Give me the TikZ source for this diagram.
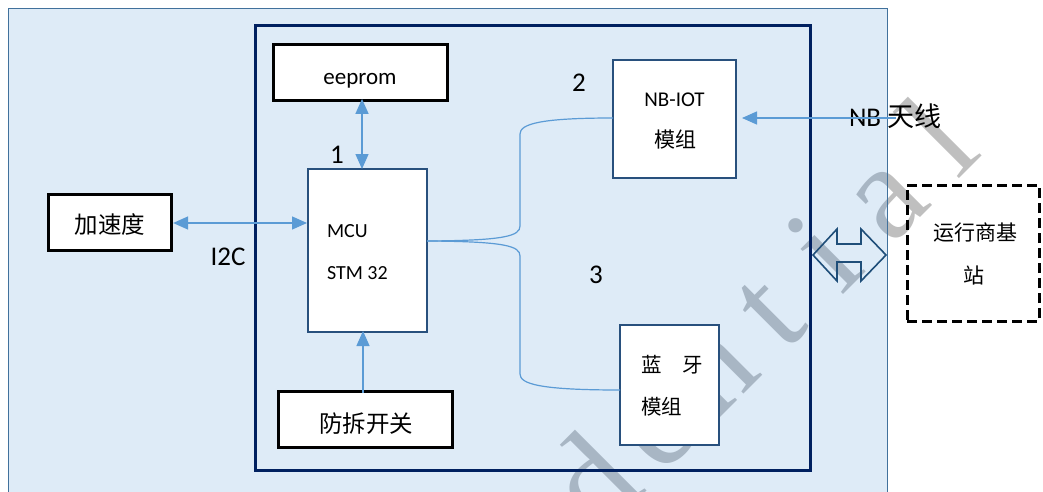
\documentclass[tikz,border=0pt]{standalone}
\usepackage{fontspec}
\setmainfont{Carlito}
\newfontfamily\cjk{Noto Sans CJK SC}
\newfontfamily\wmfont{Liberation Serif}
\newcommand\wmc[1]{\makebox[81.5pt]{#1}}
\usetikzlibrary{arrows.meta}
\definecolor{bgblue}{RGB}{222,235,247}
\definecolor{outerline}{RGB}{65,113,156}
\definecolor{navy}{RGB}{0,32,96}
\definecolor{boxline}{RGB}{40,80,125}
\definecolor{conn}{RGB}{91,155,213}
\definecolor{dblline}{RGB}{31,78,121}
\definecolor{wmblue}{RGB}{168,182,196}
\definecolor{wmgray}{RGB}{191,191,191}
\tikzset{
  thickbox/.style={draw=black,line width=3.3pt,fill=white,inner sep=0pt,outer sep=0pt},
  bluebox/.style={draw=boxline,line width=2pt,fill=white,inner sep=0pt,outer sep=0pt},
  dashbox/.style={draw=black,line width=3pt,dash pattern=on 10pt off 5pt,inner sep=0pt,outer sep=0pt},
  txt/.style={inner sep=0pt,outer sep=0pt},
  wmark/.style={txt,anchor=base west,rotate=45,font=\wmfont\fontsize{135}{135}\selectfont},
  conline/.style={draw=conn,line width=1.4pt},
  mytip/.tip={Triangle[length=15pt,width=13pt]},
}
\begin{document}
\begin{tikzpicture}[x=1pt,y=-1pt]
\useasboundingbox (0,0) rectangle (1043,492);
\clip (0,0) rectangle (1043,492);
\fill[white] (0,0) rectangle (1043,492);
% outer region
\fill[bgblue] (8.5,8.5) rectangle (887.5,510);
% watermark
\begin{scope}
\clip (8.5,8.5) rectangle (887.5,492);
\node[wmark,text=wmblue] (wm1) at (595.9,542.1) {\wmc{d}\wmc{e}\wmc{n}\wmc{t}\wmc{i}\wmc{a}\wmc{l}};
\end{scope}
\begin{scope}
\clip (887.5,0) rectangle (1043,492);
\node[wmark,text=wmgray] (wm2) at (595.9,542.1) {\wmc{d}\wmc{e}\wmc{n}\wmc{t}\wmc{i}\wmc{a}\wmc{l}};
\end{scope}
\draw[outerline,line width=1.6pt] (8.5,510) -- (8.5,8.5) -- (887.5,8.5) -- (887.5,510);
% inner region
\draw[navy,line width=3pt] (255.5,25.5) rectangle (810.5,470.5);
% boxes
\node[thickbox,minimum width=174pt,minimum height=56pt] (ee) at (360.5,72.5) {};
\node[bluebox,minimum width=119pt,minimum height=163pt] (mcu) at (367.5,250.5) {};
\node[thickbox,minimum width=123pt,minimum height=56pt] (acc) at (110,222.5) {};
\node[thickbox,minimum width=174pt,minimum height=56pt] (tamper) at (365.5,419.5) {};
\node[bluebox,minimum width=123pt,minimum height=118pt] (nb) at (674.5,119) {};
\node[bluebox,minimum width=99pt,minimum height=120pt] (bt) at (669.5,385) {};
\node[dashbox,minimum width=132pt,minimum height=136pt] (bs) at (973,253) {};
% texts
\node[txt,anchor=base,font=\fontsize{23}{23}\selectfont] (eet) at (360,85) {eeprom};
\node[txt,anchor=base west,font=\fontsize{20}{20}\selectfont] (mcut1) at (327,237) {MCU};
\node[txt,anchor=base west,font=\fontsize{20}{20}\selectfont] (mcut2) at (327,279) {STM 32};
\node[txt,font=\cjk\fontsize{23.5}{23.5}\selectfont] (acct) at (110,225) {加速度};
\node[txt,anchor=base,font=\fontsize{27}{27}\selectfont] (i2c) at (228,265) {I2C};
\node[txt,font=\cjk\fontsize{23.5}{23.5}\selectfont] (tampert) at (366,424) {防拆开关};
\node[txt,anchor=base,font=\fontsize{21}{21}\selectfont] (nbt1) at (674.5,106.5) {NB-IOT};
\node[txt,font=\cjk\fontsize{21}{21}\selectfont] (nbt2) at (675,140) {模组};
\node[txt,anchor=west,font=\cjk\fontsize{20.5}{20.5}\selectfont] (btt1) at (641,365) {蓝　牙};
\node[txt,anchor=west,font=\cjk\fontsize{20.5}{20.5}\selectfont] (btt2) at (641,407) {模组};
\node[txt,font=\cjk\fontsize{21}{21}\selectfont] (bst1) at (975,233) {运行商基};
\node[txt,font=\cjk\fontsize{21}{21}\selectfont] (bst2) at (974,275) {站};
\node[txt,anchor=base west,font=\fontsize{27}{27}\selectfont] (ant) at (849,126) {NB {\cjk 天线}};
\node[txt,anchor=base,font=\fontsize{27}{27}\selectfont] (l1) at (337,163) {1};
\node[txt,anchor=base,font=\fontsize{27}{27}\selectfont] (l2) at (579,92) {2};
\node[txt,anchor=base,font=\fontsize{27}{27}\selectfont] (l3) at (596,283) {3};
% connectors
\coordinate (antend) at (896,118);
\coordinate (eeb) at ([shift={(1.5pt,1.6pt)}]ee.south);
\draw[conline,{mytip}-{mytip}] (eeb) -- (eeb |- mcu.north);
\draw[conline,{mytip}-{mytip}] ([xshift=1.6pt]acc.east |- 0,223) -- ([xshift=-1pt]mcu.west |- 0,223);
\draw[conline,-{mytip}] ([shift={(-2.5pt,-1.6pt)}]tamper.north) -- ([xshift=-2.5pt,yshift=1pt]tamper.north |- mcu.south);
\draw[conline,-{mytip}] (antend) -- ([xshift=6pt]nb.east |- antend);
\coordinate (split) at (mcu.east |- 0,241);
\draw[conline,line width=1.2pt] (split) .. controls (505,240.5) and (520,236) .. (520,226) -- (520,134) .. controls (520,124) and (540,118) .. (nb.west |- 0,118);
\draw[conline,line width=1.2pt] (split) .. controls (505,241.5) and (520,246) .. (520,256) -- (520,374) .. controls (520,384) and (540,390) .. (bt.west |- 0,390);
% double arrow block
\draw[dblline,line width=1.6pt,line join=miter] (813,255) -- (837,229) -- (837,244) -- (861,244) -- (861,229) -- (886,255) -- (861,281) -- (861,262) -- (837,262) -- (837,281) -- cycle;
\end{tikzpicture}
\end{document}
